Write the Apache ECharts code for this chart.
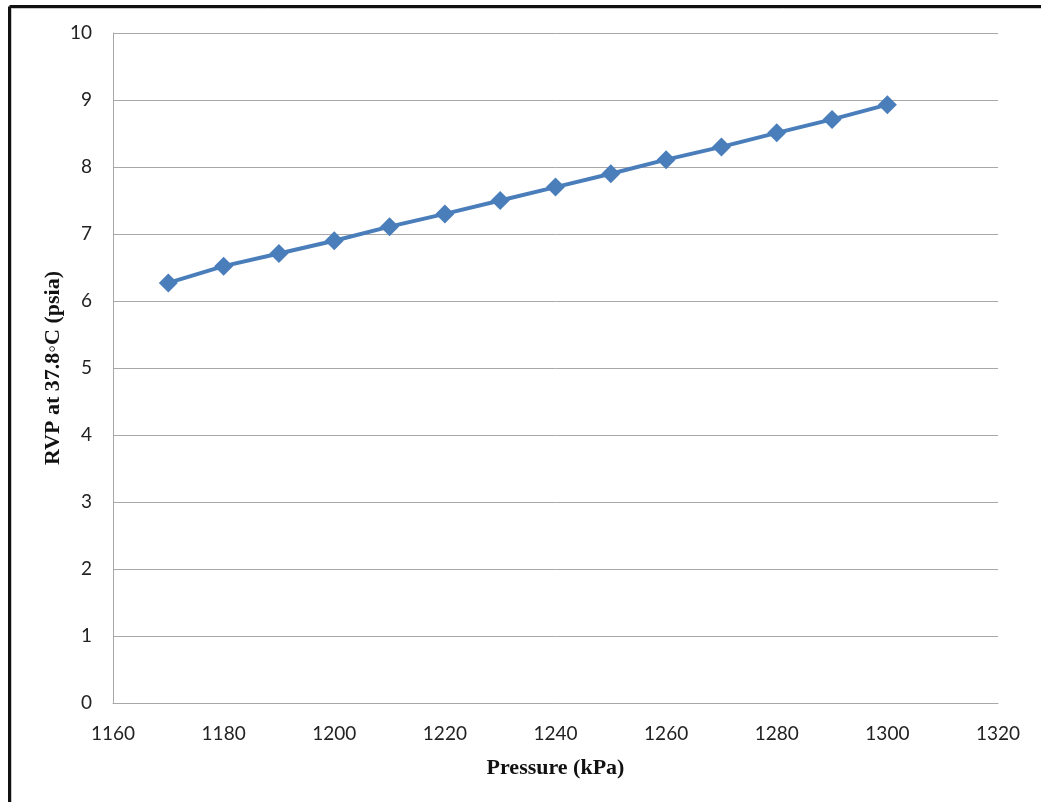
<!DOCTYPE html>
<html>
<head>
<meta charset="utf-8">
<style>
  html, body { margin: 0; padding: 0; background: #fff; }
  #chart { width: 1041px; height: 802px; }
</style>
<script src="https://cdn.jsdelivr.net/npm/echarts@6/dist/echarts.min.js"></script>
</head>
<body>
<div id="chart"></div>
<script>
// Pressure (kPa) and Reid vapour pressure at 37.8 °C (psia)
const pressure = [1170, 1180, 1190, 1200, 1210, 1220, 1230, 1240, 1250, 1260, 1270, 1280, 1290, 1300];
const rvp = [6.27, 6.52, 6.71, 6.90, 7.11, 7.30, 7.50, 7.70, 7.90, 8.11, 8.30, 8.51, 8.71, 8.93];

const xTitle = 'Pressure (kPa)';
const yTitle = 'RVP at 37.8\u25E6C (psia)';

const points = pressure.map((p, i) => [p, rvp[i]]);

const chart = echarts.init(document.getElementById('chart'), null, { renderer: 'canvas' });

const tickFont = { fontFamily: 'Lato, "Open Sans", sans-serif', fontSize: 19, color: '#222' };
const titleFont = { fontFamily: '"Liberation Serif", "Times New Roman", serif', fontWeight: 'bold', fontSize: 22, color: '#111' };
const gridGray = '#a8a8a8';

chart.setOption({
  animation: false,
  backgroundColor: '#fff',
  graphic: [
    // frame lines along the top and left edges
    { type: 'line', shape: { x1: 9.5, y1: 6.5, x2: 1041, y2: 6.5 }, style: { stroke: '#111', lineWidth: 3 } },
    { type: 'line', shape: { x1: 9.5, y1: 6.5, x2: 9.5, y2: 802 }, style: { stroke: '#111', lineWidth: 3 } },
    { type: 'line', shape: { x1: 11, y1: 8.5, x2: 1041, y2: 8.5 }, style: { stroke: '#c8c8c8', lineWidth: 1 } },
    { type: 'line', shape: { x1: 11.5, y1: 8, x2: 11.5, y2: 802 }, style: { stroke: '#c8c8c8', lineWidth: 1 } }
  ],
  grid: { left: 113, top: 33, right: 43, bottom: 99, containLabel: false },
  xAxis: {
    type: 'value',
    min: 1160, max: 1320, interval: 20,
    name: xTitle,
    nameLocation: 'middle',
    nameGap: 54,
    nameMoveOverlap: false,
    nameTextStyle: titleFont,
    axisLine: { show: true, lineStyle: { color: gridGray, width: 1 } },
    axisTick: { show: false },
    splitLine: { show: false },
    axisLabel: Object.assign({ margin: 21, formatter: v => String(v) }, tickFont)
  },
  yAxis: {
    type: 'value',
    min: 0, max: 10, interval: 1,
    name: yTitle,
    nameLocation: 'middle',
    nameRotate: 90,
    nameGap: 49,
    nameMoveOverlap: false,
    nameTextStyle: titleFont,
    axisLine: { show: true, lineStyle: { color: gridGray, width: 1 } },
    axisTick: { show: false },
    splitLine: { show: true, lineStyle: { color: gridGray, width: 1 } },
    axisLabel: Object.assign({ margin: 21, formatter: v => String(v) }, tickFont)
  },
  series: [{
    type: 'line',
    data: points,
    symbol: 'diamond',
    symbolSize: 19,
    lineStyle: { color: '#4a7ebb', width: 4 },
    itemStyle: { color: '#4a7ebb' }
  }]
});
</script>
</body>
</html>
